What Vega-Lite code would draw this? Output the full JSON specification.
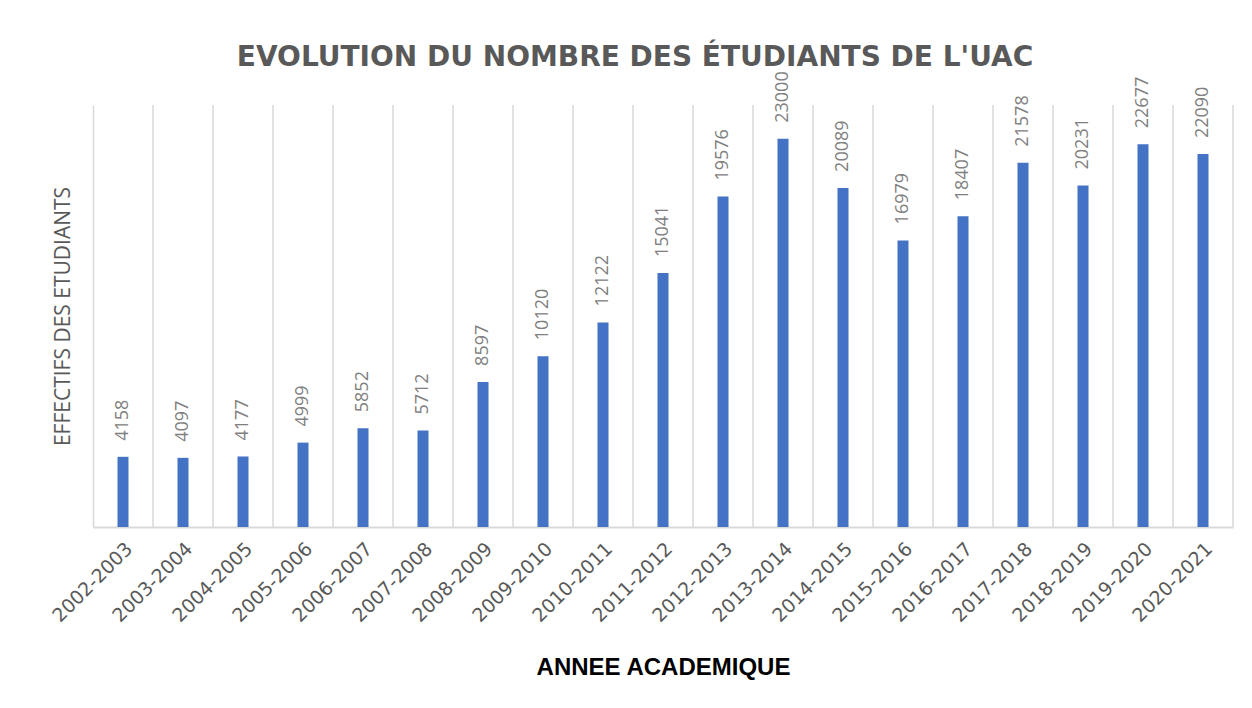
{
  "$schema": "https://vega.github.io/schema/vega-lite/v6.json",
  "width": 1140,
  "height": 422,
  "autosize": "none",
  "padding": {"left": 93, "top": 105, "right": 19, "bottom": 181},
  "background": "white",
  "config": {"view": {"stroke": null}},
  "title": {
    "text": "EVOLUTION DU NOMBRE DES ÉTUDIANTS DE L'UAC",
    "font": "DejaVu Sans",
    "fontSize": 28,
    "fontWeight": "bold",
    "color": "#595959",
    "anchor": "middle",
    "dx": -28,
    "offset": -1
  },
  "data": {
    "values": [
      {"annee": "2002-2003", "effectif": 4158},
      {"annee": "2003-2004", "effectif": 4097},
      {"annee": "2004-2005", "effectif": 4177},
      {"annee": "2005-2006", "effectif": 4999},
      {"annee": "2006-2007", "effectif": 5852},
      {"annee": "2007-2008", "effectif": 5712},
      {"annee": "2008-2009", "effectif": 8597},
      {"annee": "2009-2010", "effectif": 10120},
      {"annee": "2010-2011", "effectif": 12122},
      {"annee": "2011-2012", "effectif": 15041},
      {"annee": "2012-2013", "effectif": 19576},
      {"annee": "2013-2014", "effectif": 23000},
      {"annee": "2014-2015", "effectif": 20089},
      {"annee": "2015-2016", "effectif": 16979},
      {"annee": "2016-2017", "effectif": 18407},
      {"annee": "2017-2018", "effectif": 21578},
      {"annee": "2018-2019", "effectif": 20231},
      {"annee": "2019-2020", "effectif": 22677},
      {"annee": "2020-2021", "effectif": 22090}
    ]
  },
  "encoding": {
    "x": {
      "field": "annee",
      "type": "nominal",
      "sort": null,
      "scale": {"paddingInner": 0, "paddingOuter": 0},
      "axis": {
        "title": "ANNEE ACADEMIQUE",
        "titleFont": "Liberation Sans",
        "titleFontSize": 24,
        "titleFontWeight": "bold",
        "titleColor": "#000000",
        "titlePadding": 30,
        "labelAngle": -45,
        "labelFont": "DejaVu Sans",
        "labelFontSize": 19,
        "labelColor": "#595959",
        "labelPadding": 12,
        "ticks": false,
        "grid": false,
        "domainColor": "#d9d9d9",
        "domainWidth": 2
      }
    }
  },
  "layer": [
    {
      "mark": {"type": "rule", "color": "#d9d9d9", "strokeWidth": 1.5},
      "encoding": {
        "x": {"field": "annee", "type": "nominal", "sort": null, "bandPosition": 1}
      }
    },
    {
      "mark": {"type": "bar", "color": "#4472C4", "width": 11},
      "encoding": {
        "y": {
          "field": "effectif",
          "type": "quantitative",
          "scale": {"domain": [0, 25000], "nice": false},
          "axis": {
            "title": "EFFECTIFS DES ETUDIANTS",
            "titleFont": "Open Sans",
            "titleFontSize": 21,
            "titleFontWeight": "normal",
            "titleColor": "#595959",
            "titlePadding": 20,
            "labels": false,
            "ticks": false,
            "grid": false,
            "domainColor": "#d9d9d9",
            "domainWidth": 1.5
          }
        }
      }
    },
    {
      "mark": {
        "type": "text",
        "angle": 270,
        "align": "left",
        "baseline": "middle",
        "dx": 16,
        "font": "Open Sans",
        "fontSize": 18,
        "color": "#808080"
      },
      "encoding": {
        "y": {"field": "effectif", "type": "quantitative"},
        "text": {"field": "effectif", "type": "quantitative", "format": "d"}
      }
    }
  ]
}
